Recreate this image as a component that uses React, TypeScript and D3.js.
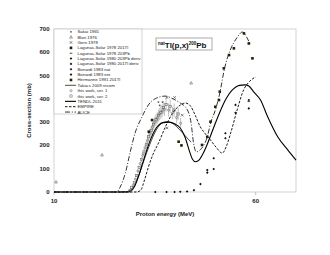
import * as d3 from 'd3';
import React from 'react';

type Pt = [number, number];

// axis ticks
const xTicks = [10, 60];
const yTicks = [0, 100, 200, 300, 400, 500, 600, 700];

// model curves: [energy MeV, cross-section mb]
const takacsRecom: Pt[] = [[26, 0], [28, 1], [29, 8], [30, 30], [31, 70], [32, 120], [33, 170], [34, 215], [35, 255], [36, 283], [37, 298], [38, 302], [39, 298], [40, 287], [41, 270], [42, 252], [43, 232], [44, 214]];
const tendl2011: Pt[] = [[10, 0], [28, 0], [29, 4], [30, 25], [31, 70], [32, 125], [33, 180], [34, 228], [35, 265], [36, 288], [37, 298], [38.5, 300], [40, 292], [41.3, 275], [42.5, 235], [43.5, 180], [44.3, 142], [45.1, 130], [46, 138], [47, 166], [48, 205], [49, 250], [50, 295], [51, 338], [52, 378], [53, 410], [54, 434], [55, 450], [56, 458], [57.3, 460], [58.3, 455], [59.5, 430], [61.2, 395], [63, 322], [65.5, 236], [68, 180], [70, 137]];
const empire: Pt[] = [[10, 0], [30.5, 0], [31.5, 8], [32.5, 55], [33.4, 107], [34.5, 160], [35.9, 210], [37.6, 279], [39.4, 339], [41.3, 373], [42.6, 382], [43.8, 370], [45, 330], [46.3, 279], [47.5, 250], [48.8, 223], [50.3, 190], [51.7, 167], [52.7, 195], [53.8, 253], [55.4, 352], [57, 438], [58.5, 475], [60, 494]];
const alice: Pt[] = [[10, 0], [25.5, 0], [26.4, 21], [27.7, 82], [28.9, 172], [30.1, 253], [31.8, 322], [33.4, 374], [35.5, 404], [37.6, 412], [39.5, 400], [41.3, 382], [43, 355], [44, 295], [44.6, 210], [45.3, 172], [46.3, 182], [48, 237], [48.9, 300], [50, 352], [51, 416], [52.3, 532], [53.9, 618], [55.3, 661], [56.7, 687], [57.9, 661], [58.7, 631]];

// experimental data
const sakai1965: Pt[] = [[35.9, 386], [36.9, 386], [36.2, 372]];
const blann1976: Pt[] = [[10.5, 43], [21.9, 159], [44.0, 468]];
const gern1978: Pt[] = [[38.0, 406], [39.9, 406], [41.8, 330], [38.0, 275]];
const lagunas1978Tl: Pt[] = [[46.7, 202], [48.0, 237], [48.8, 302], [50.0, 366], [51.1, 431], [50.9, 395], [52.1, 531], [53.4, 588], [54.6, 617], [57.1, 681], [58.3, 638], [59.2, 574]];
const lagunas1978Pb: Pt[] = [[58.3, 388]];
const lagunas1980Pb: Pt[] = [[48.0, 94], [52.5, 252], [55.0, 374], [58.3, 395]];
const lagunas1980Tl: Pt[] = [[48.0, 83], [52.5, 231], [55.0, 340], [58.3, 359]];
const bonardiNat: Pt[] = [[35.1, 0], [37.9, 0], [39.9, 0], [41.3, 1], [43.0, 2]];
const bonardiEnr: Pt[] = [[44.7, 8], [46.3, 34], [49.6, 99], [49.6, 145]];
const hermanne1991: Pt[] = [[33.5, 259], [34.3, 309], [40.9, 216], [41.6, 200]];
const thisWork1: Pt[] = [[29.0, 10], [29.6, 28], [30.2, 55], [30.8, 90], [31.4, 122], [32.0, 158], [32.6, 190], [33.2, 222], [33.8, 252], [34.4, 278], [35.0, 300], [35.6, 318], [36.2, 335], [36.8, 348], [37.4, 355], [38.4, 352], [39.4, 340], [40.4, 320], [41.4, 295]];
const thisWork2: Pt[] = [[28.7, 4], [29.3, 18], [29.9, 40], [30.5, 70], [31.1, 105], [31.7, 140], [32.3, 172], [32.9, 205], [33.5, 237], [34.1, 265], [34.7, 290], [35.3, 310], [35.9, 328], [36.5, 342], [37.1, 362], [37.8, 375], [38.8, 368], [39.8, 352], [40.8, 335]];

type Mk = 'sq' | 'osq' | 'tri' | 'x' | 'dash' | 'dot' | 'circ' | 'dia';

const pointSeries: { name: string; data: Pt[]; mk: Mk; err?: boolean }[] = [
  { name: 'Sakai 1965', data: sakai1965, mk: 'dot' },
  { name: 'Blan 1976', data: blann1976, mk: 'tri' },
  { name: 'Gern 1978', data: gern1978, mk: 'x' },
  { name: 'Lagunas-Solar 1978 201Tl', data: lagunas1978Tl, mk: 'sq' },
  { name: 'Lagunas-Solar 1978 203Pb', data: lagunas1978Pb, mk: 'dash' },
  { name: 'Lagunas-Solar 1980 203Pb deriv', data: lagunas1980Pb, mk: 'dia' },
  { name: 'Lagunas-Solar 1980 201Tl deriv', data: lagunas1980Tl, mk: 'dia' },
  { name: 'Bonardi 1983 nat', data: bonardiNat, mk: 'dia' },
  { name: 'Bonardi 1983 enr', data: bonardiEnr, mk: 'dia' },
  { name: 'Hermanne 1991 201Tl', data: hermanne1991, mk: 'sq' },
];
const workSeries = [
  { name: 'this work, ser. 1', data: thisWork1, mk: 'circ' as Mk, err: true },
  { name: 'this work, ser. 2', data: thisWork2, mk: 'osq' as Mk, err: true },
];

const x = d3.scaleLinear().domain([10, 70]).range([54, 296]);
const y = d3.scaleLinear().domain([0, 700]).range([192, 29]);

const line = d3.line<Pt>().x(d => x(d[0])).y(d => y(d[1])).curve(d3.curveMonotoneX);

function Marker({ mk, cx, cy }: { mk: Mk; cx: number; cy: number }) {
  switch (mk) {
    case 'sq': return <rect x={cx - 1.3} y={cy - 1.3} width={2.6} height={2.6} fill="#222200" />;
    case 'osq': return <rect x={cx - 1.1} y={cy - 1.1} width={2.2} height={2.2} fill="none" stroke="#555" strokeWidth={0.5} />;
    case 'tri': return <path d={`M${cx},${cy - 1.5}L${cx + 1.4},${cy + 1}L${cx - 1.4},${cy + 1}Z`} fill="none" stroke="#444" strokeWidth={0.5} />;
    case 'x': return <path d={`M${cx - 1.3},${cy - 1.3}L${cx + 1.3},${cy + 1.3}M${cx + 1.3},${cy - 1.3}L${cx - 1.3},${cy + 1.3}`} stroke="#333" strokeWidth={0.6} />;
    case 'dash': return <rect x={cx - 1.3} y={cy - 0.4} width={2.6} height={0.8} fill="#222" />;
    case 'dot': return <circle cx={cx} cy={cy} r={0.9} fill="#555" />;
    case 'circ': return <circle cx={cx} cy={cy} r={1.1} fill="none" stroke="#555" strokeWidth={0.5} />;
    case 'dia': return <path d={`M${cx},${cy - 1.3}L${cx + 1.3},${cy}L${cx},${cy + 1.3}L${cx - 1.3},${cy}Z`} fill="#111" />;
  }
  return null;
}

const curves = [
  { name: 'Takacs 2009 recom', data: takacsRecom, w: 0.7, dash: undefined as string | undefined },
  { name: 'TENDL 2011', data: tendl2011, w: 1.1, dash: undefined },
  { name: 'EMPIRE', data: empire, w: 0.9, dash: '2.5,1.5' },
  { name: 'ALICE', data: alice, w: 0.8, dash: '5,1.8,1,1.8' },
];

const legendItems: { name: string; mk?: Mk; curve?: { w: number; dash?: string } }[] = [
  ...pointSeries.slice(0, 10).map(s => ({ name: s.name, mk: s.mk })),
  { name: 'Takacs 2009 recom', curve: curves[0] },
  ...workSeries.map(s => ({ name: s.name, mk: s.mk })),
  { name: 'TENDL 2011', curve: curves[1] },
  { name: 'EMPIRE', curve: curves[2] },
  { name: 'ALICE', curve: curves[3] },
];

export default function App() {
  const font = '"Liberation Sans", Arial, sans-serif';
  return (
    <svg width={330} height={255} style={{ position: 'absolute', left: 0, top: 0, background: '#fff' }} fontFamily={font}>
      {/* plot frame */}
      <rect x={54} y={29} width={242} height={163} fill="#fff" stroke="#c8c8c8" strokeWidth={0.8} />
      {xTicks.map(t => (
        <g key={t}>
          <line x1={x(t)} x2={x(t)} y1={192} y2={195} stroke="#999" strokeWidth={0.6} />
          <text x={x(t)} y={203} fontSize={6} fontWeight="bold" textAnchor="middle" fill="#222">{t}</text>
        </g>
      ))}
      {yTicks.map(t => (
        <text key={t} x={49.5} y={y(t) + 2} fontSize={6} fontWeight="bold" textAnchor="end" fill="#222">{t}</text>
      ))}
      <text transform="translate(31,110.5) rotate(-90)" fontSize={6} fontWeight="bold" textAnchor="middle" fill="#222">Cross-section (mb)</text>
      <text x={165} y={216} fontSize={6} fontWeight="bold" textAnchor="middle" fill="#222">Proton energy (MeV)</text>

      {/* curves */}
      <g fill="none" stroke="#000">
        {curves.map(c => (
          <path key={c.name} d={line(c.data) || ''} strokeWidth={c.w} strokeDasharray={c.dash} />
        ))}
      </g>

      {/* error bars and work data */}
      {workSeries.map(s => (
        <g key={s.name}>
          {s.data.map((d, i) => (
            <g key={i}>
              <line x1={x(d[0])} x2={x(d[0])} y1={y(d[1] * 1.08)} y2={y(d[1] * 0.92)} stroke="#666" strokeWidth={0.4} />
              <Marker mk={s.mk} cx={x(d[0])} cy={y(d[1])} />
            </g>
          ))}
        </g>
      ))}
      {pointSeries.map(s => (
        <g key={s.name}>
          {s.data.map((d, i) => <Marker key={i} mk={s.mk} cx={x(d[0])} cy={y(d[1])} />)}
        </g>
      ))}

      {/* legend */}
      <rect x={54} y={29} width={88} height={85} fill="#fff" stroke="#c8c8c8" strokeWidth={0.8} />
      {legendItems.map((it, i) => {
        const ly = 31.8 + i * 5.35;
        return (
          <g key={it.name}>
            {it.curve ? (
              <line x1={65} x2={76} y1={ly} y2={ly} stroke="#000" strokeWidth={it.curve.w} strokeDasharray={it.curve.dash} />
            ) : (
              <Marker mk={it.mk as Mk} cx={71} cy={ly} />
            )}
            <text x={77.5} y={ly + 1.5} fontSize={4.3} fill="#222">{it.name}</text>
          </g>
        );
      })}

      {/* title */}
      <rect x={156} y={38} width={56} height={12} fill="#fff" stroke="#888" strokeWidth={0.7} />
      <text x={158} y={47.5} fontSize={8} fontWeight="bold" fill="#111">
        <tspan fontSize={4.5} dy={-3}>nat</tspan>
        <tspan dy={3}>Tl(p,x)</tspan>
        <tspan fontSize={4.5} dy={-3}>200</tspan>
        <tspan dy={3}>Pb</tspan>
      </text>
    </svg>
  );
}
